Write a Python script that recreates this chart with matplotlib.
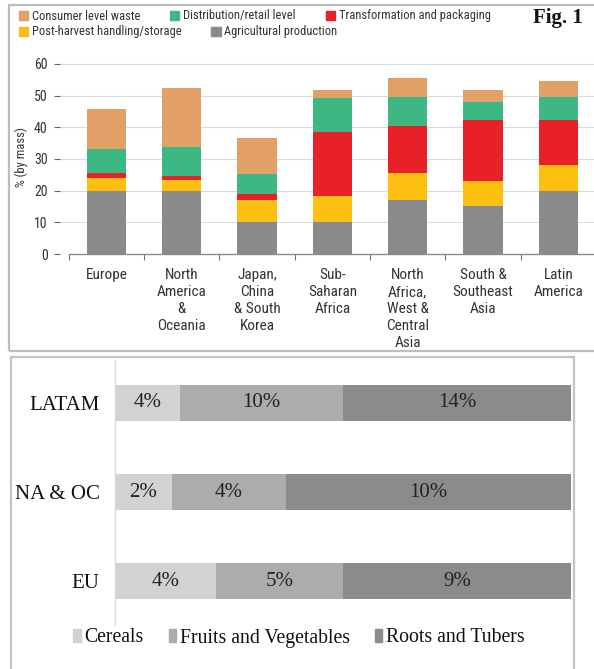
import matplotlib
matplotlib.use("Agg")
import matplotlib.pyplot as plt
from matplotlib.patches import Rectangle, Patch
from matplotlib import font_manager
import numpy as np

# ---------------- data ----------------
regions = ["Europe", "North\nAmerica\n&\nOceania", "Japan,\nChina\n& South\nKorea",
           "Sub-\nSaharan\nAfrica", "North\nAfrica,\nWest &\nCentral\nAsia",
           "South &\nSoutheast\nAsia", "Latin\nAmerica"]
agricultural = [20, 20, 10, 10, 17, 15, 20]
post_harvest = [4, 3.3, 7.2, 8.2, 8.6, 7.9, 8]
transformation = [1.6, 1.4, 1.6, 20.4, 14.8, 19.3, 14.4]
distribution = [7.6, 9.1, 6.6, 10.6, 9.1, 5.8, 7.1]
consumer = [12.5, 18.6, 11.2, 2.5, 6.1, 3.7, 5.0]
yticks = [0, 10, 20, 30, 40, 50, 60]

regions_b = ["EU", "NA & OC", "LATAM"]
cereals = [4, 2, 4]
fruits_veg = [5, 4, 10]
roots_tubers = [9, 10, 14]

# ---------------- styling ----------------
W, H = 594, 669
def fx(p): return p / W
def fy(p): return 1 - p / H

installed = {f.name for f in font_manager.fontManager.ttflist}
narrow = None
for cand in ["Liberation Sans Narrow", "Roboto Condensed", "DejaVu Sans Condensed",
             "Open Sans Condensed", "Noto Sans Condensed"]:
    if cand in installed:
        narrow = cand
        break
if narrow:
    SANS = [narrow, "DejaVu Sans"]
    k = 1.0
else:
    SANS = ["Roboto", "DejaVu Sans"]
    k = 0.88
SERIF = ["Liberation Serif", "DejaVu Serif"]
TXT = "#333333"

c_agri = "#8a8a8c"
c_post = "#fdc010"
c_trans = "#e8202a"
c_dist = "#3db882"
c_cons = "#e39f68"

fig = plt.figure(figsize=(W / 100, H / 100), dpi=100)
fig.patch.set_facecolor("white")

# ---------------- top chart ----------------
ax1 = fig.add_axes([fx(60), fy(254), fx(596) - fx(60), fy(60.8) - fy(254)])
x = np.arange(len(regions))
series = [(agricultural, c_agri), (post_harvest, c_post), (transformation, c_trans),
          (distribution, c_dist), (consumer, c_cons)]
bottom = np.zeros(len(regions))
for vals, col in series:
    ax1.bar(x, vals, width=0.52, bottom=bottom, color=col, zorder=3)
    bottom += np.array(vals)

ax1.set_xlim(-0.6167, 6.492)
ax1.set_ylim(0, 61)
ax1.set_yticks(yticks)
ax1.yaxis.grid(True, color="#dcdcdc", lw=0.8, zorder=0)
ax1.set_axisbelow(True)
for s in ["left", "top", "right"]:
    ax1.spines[s].set_visible(False)
ax1.spines["bottom"].set_color("#8c8c8c")
ax1.spines["bottom"].set_linewidth(1.0)
ax1.spines["bottom"].set_bounds(-0.5, 6.5)
ax1.spines["bottom"].set_zorder(4)
ax1.tick_params(axis="y", length=4, width=0.8, color="#666666", pad=5,
                labelsize=10 * k, labelcolor=TXT)
ax1.set_xticks(x)
ax1.set_xticklabels(regions, linespacing=1.28)
ax1.tick_params(axis="x", which="major", length=0, pad=10, labelsize=11 * k, labelcolor=TXT)
ax1.set_xticks(np.arange(-0.5, 7, 1), minor=True)
ax1.tick_params(axis="x", which="minor", length=4, width=0.8, color="#777777", direction="out")
for lab in ax1.get_xticklabels() + ax1.get_yticklabels():
    lab.set_family(SANS)
ax1.set_ylabel("% (by mass)", fontsize=9 * k, color=TXT, family=SANS)
ax1.yaxis.set_label_coords((28 - 60) / 536, 0.5)

# legends top
h = {"Consumer level waste": c_cons, "Distribution/retail level": c_dist,
     "Transformation and packaging": c_trans,
     "Post-harvest handling/storage": c_post, "Agricultural production": c_agri}
row1 = ["Consumer level waste", "Distribution/retail level", "Transformation and packaging"]
row2 = ["Post-harvest handling/storage", "Agricultural production"]
for row, yy in [(row1, 16), (row2, 32)]:
    lg = fig.legend([Patch(color=h[kk]) for kk in row], row, loc="center left",
                    bbox_to_anchor=(fx(18.5), fy(yy)), ncol=len(row), frameon=False,
                    borderpad=0, borderaxespad=0, handlelength=0.75, handleheight=0.75,
                    handletextpad=0.3, columnspacing=2.4,
                    prop={"family": SANS, "size": 9 * k})
    for t in lg.get_texts():
        t.set_color(TXT)

fig.text(fx(583), fy(18), "Fig. 1", ha="right", va="center", fontsize=15,
         fontweight="bold", family=SERIF, color="#111111")

fig.add_artist(Rectangle((fx(9), fy(351)), fx(600) - fx(9), fy(5) - fy(351),
                         transform=fig.transFigure, fill=False, edgecolor="#bdbdbd", lw=1.6))

# ---------------- bottom chart ----------------
ax2 = fig.add_axes([fx(115), fy(625), fx(571) - fx(115), fy(360) - fy(625)])
yb = np.arange(len(regions_b))
tot = np.array(cereals) + np.array(fruits_veg) + np.array(roots_tubers)
left = np.zeros(len(regions_b))
bcols = ["#d2d2d2", "#acacac", "#8b8b8b"]
bnames = ["Cereals", "Fruits and Vegetables", "Roots and Tubers"]
for vals, col in zip([cereals, fruits_veg, roots_tubers], bcols):
    frac = np.array(vals) / tot
    ax2.barh(yb, frac, left=left, height=0.40, color=col)
    for yi, (l, f, v) in enumerate(zip(left, frac, vals)):
        ax2.text(l + f / 2, yi, f"{v}%", ha="center", va="center", fontsize=15,
                 family=SERIF, color="#222222")
    left += frac
ax2.set_xlim(0, 1)
ax2.set_ylim(-0.494, 2.483)
ax2.set_xticks([])
ax2.set_yticks(yb)
ax2.set_yticklabels(regions_b)
ax2.tick_params(axis="y", length=0, pad=11, labelsize=15)
for lab in ax2.get_yticklabels():
    lab.set_family(SERIF)
    lab.set_color("#111111")
for s in ["top", "right", "bottom"]:
    ax2.spines[s].set_visible(False)
ax2.spines["left"].set_color("#d9d9d9")
ax2.spines["left"].set_linewidth(1.0)

lg2 = fig.legend([Patch(color=c) for c in bcols], bnames, loc="center",
                 bbox_to_anchor=(fx(299), fy(638)), ncol=3, frameon=False,
                 borderpad=0, borderaxespad=0, handlelength=0.38, handleheight=0.6,
                 handletextpad=0.2, columnspacing=1.25,
                 prop={"family": SERIF, "size": 14.2})
for t in lg2.get_texts():
    t.set_color("#111111")

fig.add_artist(Rectangle((fx(11), fy(675)), fx(574) - fx(11), fy(357) - fy(675),
                         transform=fig.transFigure, fill=False, edgecolor="#c4c4c4", lw=1.6))

fig.savefig("out.png", dpi=100, facecolor="white")
